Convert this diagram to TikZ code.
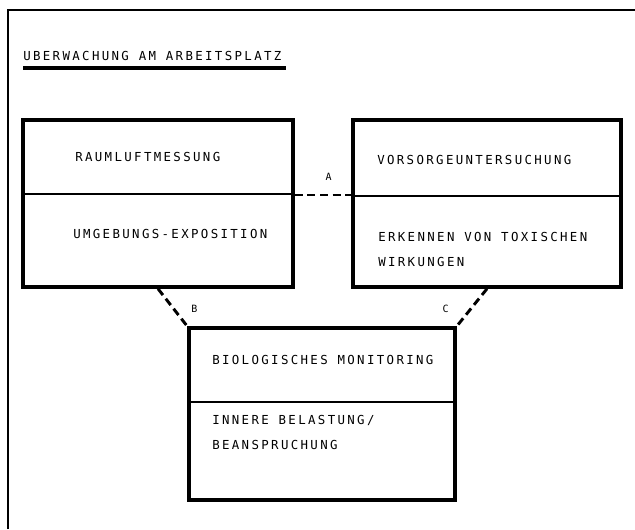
\documentclass[tikz,border=0pt]{standalone}
\usepackage{fontspec}
\newfontfamily\plotfont{DejaVu Sans Mono}[LetterSpace=19]
\usetikzlibrary{positioning}

\tikzset{
  rahmen/.style={draw, line width=2.6pt, inner sep=0pt},
  teiler/.style={line width=1pt},
  txt/.style={anchor=base west, inner sep=0pt, font=\plotfont\fontsize{9.3}{11}\selectfont},
  verb/.style={line width=2.2pt, dash pattern=on 6pt off 3.5pt},
  buchst/.style={inner sep=0pt, font=\plotfont\fontsize{7.5}{9}\selectfont}
}

\begin{document}
\begin{tikzpicture}[x=0.75pt, y=-0.75pt]
  \useasboundingbox (0,0) rectangle (635,529);

  % rand
  \draw[line width=1.3pt] (8,529) -- (8,10) -- (635,10);

  % ueberschrift
  \node[txt] (titel) at (23,60.5) {UBERWACHUNG AM ARBEITSPLATZ};
  \draw[line width=2.8pt] ([yshift=-5.6pt]titel.base west) -- ([yshift=-5.6pt,xshift=3pt]titel.base east);

  % kaesten
  \node[rahmen, minimum width=202.5pt, minimum height=125.25pt] (raum) at (158,203.5) {};
  \node[rahmen, minimum width=201pt, minimum height=125.25pt] (vor) at (487,203.5) {};
  \node[rahmen, minimum width=199.5pt, minimum height=129pt] (bio) at (322,414) {};

  \draw[teiler] (raum.west |- 0,194) -- (raum.east |- 0,194);
  \draw[teiler] (vor.west |- 0,196) -- (vor.east |- 0,196);
  \draw[teiler] (bio.west |- 0,402) -- (bio.east |- 0,402);

  \node[txt] (raum1) at (75,161.5) {RAUMLUFTMESSUNG};
  \node[txt] (raum2) at (73,238.5) {UMGEBUNGS-EXPOSITION};

  \node[txt] (vor1) at (377,164.5) {VORSORGEUNTERSUCHUNG};
  \node[txt] (vor2) at (378,241.5) {ERKENNEN VON TOXISCHEN};
  \node[txt] (vor3) at (378,266.5) {WIRKUNGEN};

  \node[txt] (bio1) at (212,364.5) {BIOLOGISCHES MONITORING};
  \node[txt] (bio2) at (212,424.5) {INNERE BELASTUNG/};
  \node[txt] (bio3) at (212,449.5) {BEANSPRUCHUNG};

  % verbindungen
  \draw[verb] (raum.east |- 0,195) -- (vor.west |- 0,195)
    node[buchst, pos=0.6, above=10pt] (la) {A};
  \draw[verb] (raum.south) -- (bio.north west)
    node[buchst, pos=1, above right=9pt and 2pt] (lb) {B};
  \draw[verb] (vor.south) -- (bio.north east)
    node[buchst, pos=1, above left=9pt and 5pt] (lc) {C};
\end{tikzpicture}
\end{document}
